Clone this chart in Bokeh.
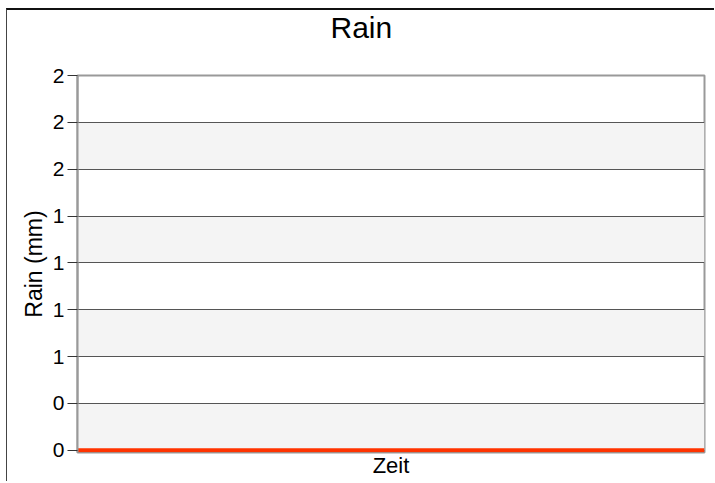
import pandas as pd
from bokeh.plotting import figure
from bokeh.models import (FixedTicker, CustomJSTickFormatter, BoxAnnotation,
                          Range1d, Title)
from bokeh.embed import file_html
from bokeh.resources import INLINE

# ---- data ----
times = ["2024-06-01 00:00", "2024-06-01 03:00", "2024-06-01 06:00",
         "2024-06-01 09:00", "2024-06-01 12:00", "2024-06-01 15:00",
         "2024-06-01 18:00", "2024-06-01 21:00", "2024-06-02 00:00"]
rain_mm = [0, 0, 0, 0, 0, 0, 0, 0, 0]
y_ticks = [0, 0.25, 0.5, 0.75, 1.0, 1.25, 1.5, 1.75, 2.0]
y_tick_labels = ["0", "0", "1", "1", "1", "1", "2", "2", "2"]
title_text = "Rain"
y_label = "Rain (mm)"
x_label = "Zeit"

t = pd.to_datetime(times)
FONT = "Liberation Sans"

p = figure(width=708, height=473, x_axis_type="datetime",
           output_backend="svg", toolbar_location=None,
           x_range=Range1d(t.min(), t.max()),
           y_range=Range1d(-0.012, 2.0))
p.styles = {"margin-left": "6px", "margin-top": "8px",
            "border-left": "1px solid #444", "border-top": "2px solid #111"}

p.min_border_left = 70
p.min_border_right = 11
p.min_border_top = 65
p.min_border_bottom = 31
p.background_fill_color = "white"
p.border_fill_color = "white"
p.outline_line_color = "#999999"
p.outline_line_width = 2

# alternating bands
for i in range(0, len(y_ticks) - 1, 2):
    p.add_layout(BoxAnnotation(bottom=y_ticks[i], top=y_ticks[i + 1],
                               fill_color="#f4f4f4", fill_alpha=1,
                               line_color=None, level="image"))

# spacer between title and plot area
p.add_layout(Title(text=" ", text_font=FONT, text_font_size="25px",
                   standoff=0), "above")

# title
p.title.text = title_text
p.title.text_font = FONT
p.title.text_font_size = "30px"
p.title.text_font_style = "normal"
p.title.text_color = "black"
p.title.align = "left"
p.title.offset = 253
p.title.vertical_align = "top"
p.title.standoff = 0

# y axis
yax = p.yaxis[0]
yax.ticker = FixedTicker(ticks=y_ticks)
yax.formatter = CustomJSTickFormatter(
    args=dict(vals=y_ticks, labs=y_tick_labels),
    code="const i = vals.findIndex(v => Math.abs(v - tick) < 1e-9); return i >= 0 ? labs[i] : '';")
yax.axis_line_color = "#999999"
yax.axis_line_width = 2
yax.major_tick_line_color = "#333333"
yax.major_tick_line_width = 1
yax.major_tick_out = 10
yax.major_tick_in = 0
yax.minor_tick_line_color = None
yax.major_label_standoff = 3
yax.major_label_text_font = FONT
yax.major_label_text_font_size = "21px"
yax.major_label_text_color = "black"
yax.axis_label = y_label
yax.axis_label_text_font = FONT
yax.axis_label_text_font_size = "23px"
yax.axis_label_text_font_style = "normal"
yax.axis_label_text_color = "black"
yax.axis_label_standoff = 3

# x axis
xax = p.xaxis[0]
xax.ticker = FixedTicker(ticks=[])
xax.axis_line_color = None
xax.major_tick_line_color = None
xax.minor_tick_line_color = None
xax.axis_label = x_label
xax.axis_label_text_font = FONT
xax.axis_label_text_font_size = "22px"
xax.axis_label_text_font_style = "normal"
xax.axis_label_text_color = "black"
xax.axis_label_standoff = 0

# grids
p.xgrid.visible = False
p.ygrid.ticker = FixedTicker(ticks=y_ticks)
p.ygrid.grid_line_color = "#555555"
p.ygrid.grid_line_width = 1

p.line(t, rain_mm, line_color="#ff3300", line_width=4)

open("out.html", "w").write(file_html(p, INLINE))
